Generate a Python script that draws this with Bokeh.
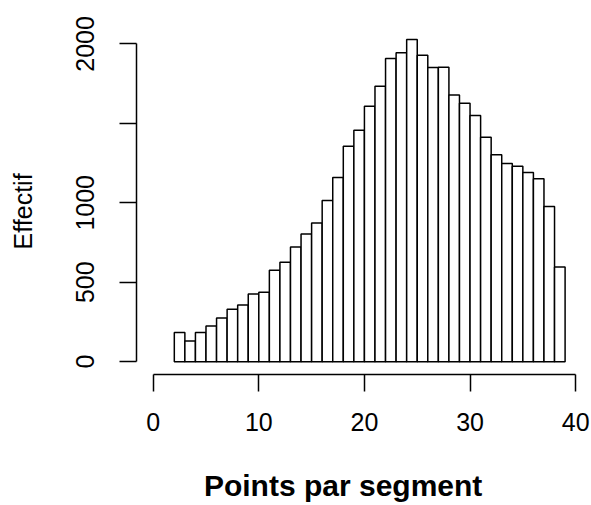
from bokeh.plotting import figure
from bokeh.models import Range1d, FixedTicker
from bokeh.embed import file_html
from bokeh.resources import INLINE

# Histogram data: bins of width 1 from 2 to 39
bin_left = [2, 3, 4, 5, 6, 7, 8, 9, 10, 11, 12, 13, 14, 15, 16, 17, 18, 19, 20,
            21, 22, 23, 24, 25, 26, 27, 28, 29, 30, 31, 32, 33, 34, 35, 36, 37, 38]
bin_right = [3, 4, 5, 6, 7, 8, 9, 10, 11, 12, 13, 14, 15, 16, 17, 18, 19, 20, 21,
             22, 23, 24, 25, 26, 27, 28, 29, 30, 31, 32, 33, 34, 35, 36, 37, 38, 39]
counts = [183, 130, 183, 225, 275, 330, 357, 426, 437, 575, 626, 722, 804, 873,
          1014, 1159, 1356, 1457, 1608, 1734, 1908, 1944, 2028, 1929, 1851, 1853,
          1679, 1627, 1549, 1413, 1303, 1247, 1230, 1190, 1152, 976, 596]
x_ticks = [0, 10, 20, 30, 40]
y_ticks = [0, 500, 1000, 1500, 2000]
y_tick_labels = {0: "0", 500: "500", 1000: "1000", 1500: "", 2000: "2000"}
x_title = "Points par segment"
y_title = "Effectif"

FONT = "Liberation Sans"
NBSP = "\u00a0"

p = figure(width=591, height=505, output_backend="svg", toolbar_location=None,
           x_range=Range1d(-1.58, 41.5), y_range=Range1d(-81, 2103.5))
p.min_border_left = 136
p.min_border_top = 27
p.min_border_bottom = 131
p.min_border_right = 0
p.outline_line_color = None
p.xgrid.grid_line_color = None
p.ygrid.grid_line_color = None
p.background_fill_color = "white"
p.border_fill_color = "white"

p.quad(left=bin_left, right=bin_right, bottom=0, top=counts,
       fill_color="white", line_color="black", line_width=1.5)

for ax in (p.xaxis[0], p.yaxis[0]):
    ax.axis_line_width = 1.5
    ax.major_tick_line_width = 1.5
    ax.major_tick_in = 0
    ax.major_tick_out = 17
    ax.minor_tick_line_color = None
    ax.major_label_text_font = FONT
    ax.major_label_text_font_size = "25px"
    ax.major_label_text_color = "black"
    ax.axis_label_text_font = FONT
    ax.axis_label_text_color = "black"

p.xaxis.ticker = FixedTicker(ticks=x_ticks)
p.xaxis.bounds = (0, 40)
p.xaxis.major_label_standoff = 21
# trailing no-break spaces shift the centred title slightly to the left, as in the reference
p.xaxis.axis_label = x_title + NBSP * 5
p.xaxis.axis_label_text_font_size = "30px"
p.xaxis.axis_label_text_font_style = "bold"
p.xaxis.axis_label_standoff = 35

p.yaxis.ticker = FixedTicker(ticks=y_ticks)
p.yaxis.bounds = (0, 2000)
p.yaxis.major_label_overrides = y_tick_labels
p.yaxis.major_label_orientation = "vertical"
p.yaxis.major_label_standoff = 25
# trailing no-break spaces shift the centred label slightly downward
p.yaxis.axis_label = y_title + NBSP * 3
p.yaxis.axis_label_text_font_size = "25px"
p.yaxis.axis_label_text_font_style = "normal"
p.yaxis.axis_label_standoff = 37

open("out.html", "w").write(file_html(p, INLINE))
